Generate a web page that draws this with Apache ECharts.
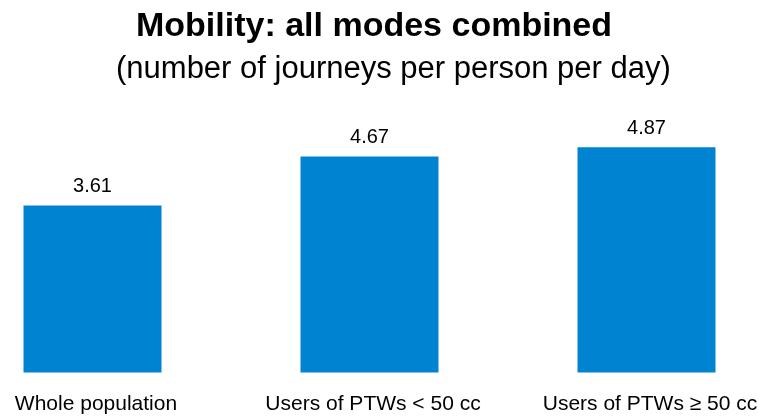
<!DOCTYPE html>
<html>
<head>
<meta charset="utf-8">
<script src="https://cdn.jsdelivr.net/npm/echarts@6/dist/echarts.min.js"></script>
<style>
  html, body { margin: 0; padding: 0; background: #fff; }
  #chart { width: 759px; height: 416px; }
</style>
</head>
<body>
<div id="chart"></div>
<script>
const categories = ["Whole population", "Users of PTWs < 50 cc", "Users of PTWs \u2265 50 cc"];
const journeys = [3.61, 4.67, 4.87];

const chart = echarts.init(document.getElementById("chart"));

const option = {
  animation: false,
  textStyle: { fontFamily: "Liberation Sans, Arial, sans-serif" },
  title: [
    {
      text: "Mobility: all modes combined",
      left: 131,
      top: 5,
      textStyle: { fontSize: 34, fontWeight: "bold", color: "#000" }
    },
    {
      text: "(number of journeys per person per day)",
      left: 111,
      top: 49,
      textStyle: { fontSize: 31, fontWeight: "normal", color: "#000" }
    }
  ],
  grid: {
    left: -46,
    width: 831,
    top: 95,
    bottom: 43.5,
    outerBoundsMode: "none"
  },
  xAxis: {
    type: "category",
    data: categories,
    axisLine: { show: false },
    axisTick: { show: false },
    axisLabel: {
      color: "#000",
      fontSize: 21,
      margin: 21,
      interval: 0,
      padding: [0, 0, 0, 7]
    }
  },
  yAxis: {
    type: "value",
    min: 0,
    max: 6,
    show: false
  },
  series: [
    {
      type: "bar",
      data: journeys,
      barWidth: 138,
      itemStyle: { color: "#0083D1" },
      label: {
        show: true,
        position: "top",
        distance: 9,
        color: "#000",
        fontSize: 20,
        formatter: p => p.value.toFixed(2)
      }
    }
  ]
};

chart.setOption(option);
</script>
</body>
</html>
